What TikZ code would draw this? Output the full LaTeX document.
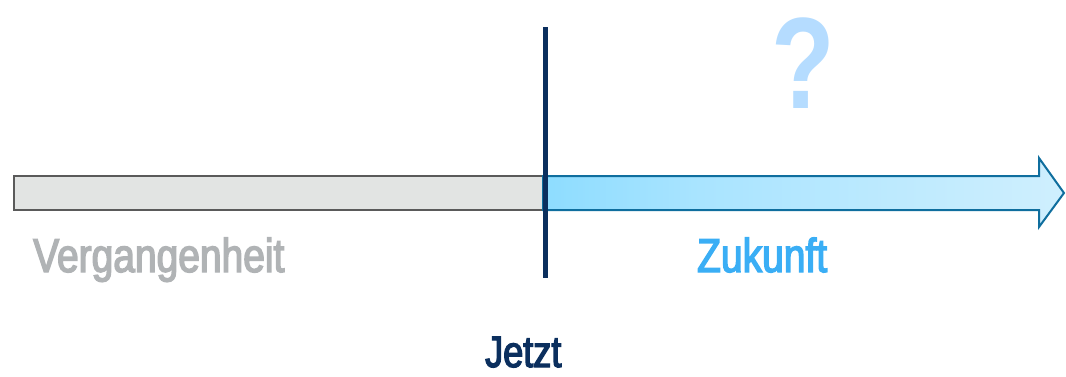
\documentclass[tikz,border=0pt]{standalone}
\usepackage{fontspec}
\newfontfamily\condfont[FakeStretch=0.82, FakeBold=3]{Liberation Sans}
\newfontfamily\qfont[FakeStretch=0.8]{Liberation Sans Bold}
\definecolor{pastgray}{HTML}{E2E4E3}
\definecolor{pastline}{HTML}{5A5A5A}
\definecolor{pasttext}{HTML}{B0B3B5}
\definecolor{futline}{HTML}{0F6E9E}
\definecolor{futtext}{HTML}{3AAEF5}
\definecolor{nowcol}{HTML}{0B2F5E}
\definecolor{qcol}{HTML}{B5DCFF}
\definecolor{fa}{HTML}{CDEFFF}
\definecolor{fb}{HTML}{7DD8FF}
\definecolor{fc}{HTML}{A9E4FF}
\definecolor{fd}{HTML}{EAF7FD}
\pgfdeclarehorizontalshading{futshade}{100bp}{color(0bp)=(fa); color(3bp)=(fa); color(16bp)=(fb); color(40bp)=(fc); color(100bp)=(fd)}
\tikzset{
  lbl/.style={font=\condfont\fontsize{47.5}{50}\selectfont, inner sep=0pt, anchor=base west},
}
\begin{document}
\begin{tikzpicture}[x=1pt,y=1pt]
\useasboundingbox (0,0) rectangle (1066,376);
% past bar
\draw[pastline, line width=2pt, fill=pastgray] (14,166) rectangle (543,200);
% future arrow
\draw[futline, line width=2pt, shading=futshade, join=miter]
  (543,166) -- (1039,166) -- (1039,149) -- (1064,183) -- (1039,218) -- (1039,200) -- (543,200) -- cycle;
% now line
\coordinate (nowtop) at (545,349);
\coordinate (nowbot) at (545,98);
\draw[nowcol, line width=5pt] (nowtop) -- (nowbot);
% labels
\node[lbl, text=pasttext] (past) at (33,104) {Vergangenheit};
\node[lbl, text=futtext] (fut) at (697,104) {Zukunft};
\node[lbl, text=nowcol, font=\condfont\fontsize{44}{46}\selectfont] (now) at (485,9) {Jetzt};
\node[font=\qfont\fontsize{130}{130}\selectfont, text=qcol, inner sep=0pt, anchor=base] (q) at (803,268) {?};
\end{tikzpicture}
\end{document}
